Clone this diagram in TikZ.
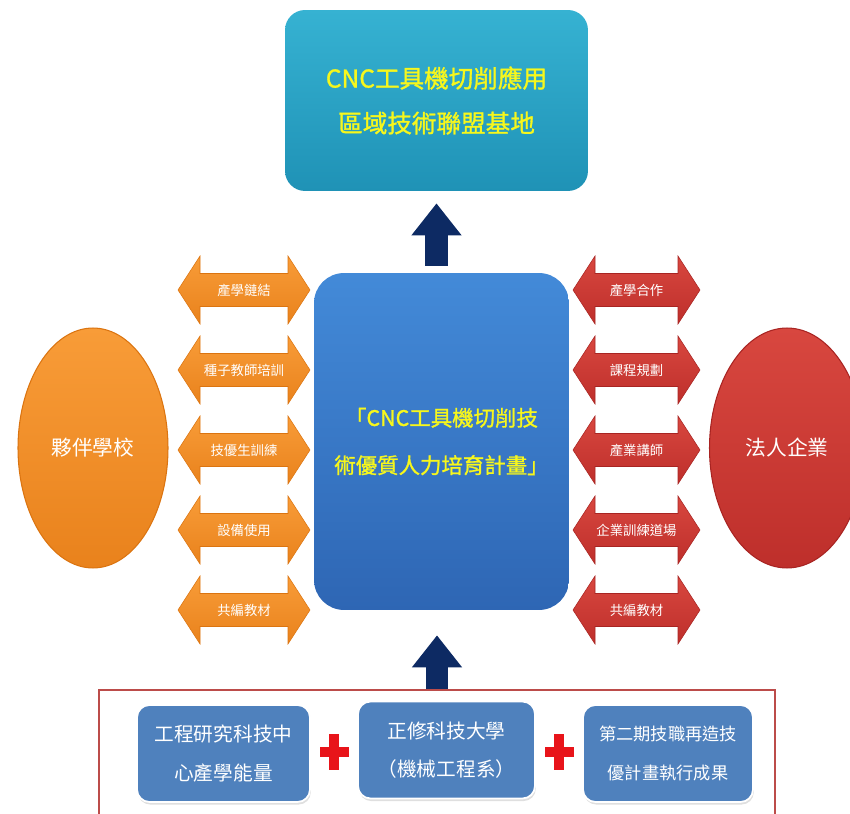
\documentclass[tikz,border=0pt]{standalone}
\usepackage{fontspec}
\newfontfamily\cjk{Noto Sans CJK TC}
\newfontfamily\cjkbold[FakeBold=1.2]{Noto Sans CJK TC}
\usepackage{tikz}
\usetikzlibrary{shapes.geometric,arrows.meta,calc,shadows}

\definecolor{tealtop}{HTML}{36B2D2}
\definecolor{tealbot}{HTML}{1F92B6}
\definecolor{plantop}{HTML}{438AD8}
\definecolor{planbot}{HTML}{2E66B4}
\definecolor{orangein}{HTML}{F89C38}
\definecolor{orangeout}{HTML}{E9821C}
\definecolor{orangedark}{HTML}{DB7410}
\definecolor{redin}{HTML}{D8473F}
\definecolor{redout}{HTML}{BE2F2B}
\definecolor{reddark}{HTML}{A82422}
\definecolor{navy}{HTML}{0D2A63}
\definecolor{steel}{HTML}{4F81BD}
\definecolor{framered}{HTML}{BC4C4A}
\definecolor{titleyellow}{HTML}{F7F71C}
\definecolor{plusred}{HTML}{E8141A}

\begin{document}
\begin{tikzpicture}[x=0.02cm,y=-0.02cm,
  title/.style={font=\cjkbold\fontsize{14}{25.5}\selectfont, text=titleyellow, align=center},
  planbox/.style={rounded corners=0.6cm, top color=plantop, bottom color=planbot,
    font=\cjkbold\fontsize{12.2}{27}\selectfont, text=titleyellow, align=center},
  partner/.style={ellipse, top color=#1in, bottom color=#1out, draw=#1dark, line width=0.6pt,
    text=white, font=\cjk\fontsize{11.8}{14}\selectfont},
  tag/.style={text=white, font=\cjk\fontsize{7.6}{9}\selectfont},
  source/.style={rounded corners=0.25cm, fill=steel, draw=white, line width=1pt,
    drop shadow={opacity=0.25, shadow xshift=0.5pt, shadow yshift=-1.5pt},
    text=white, align=center, minimum height=1.94cm},
  liftarrow/.style={navy, line width=0.46cm, -{Triangle[width=0.96cm,length=0.64cm]}}]
\useasboundingbox (0,0) rectangle (850,814);

% goal and plan
\node[rounded corners=0.4cm, top color=tealtop, bottom color=tealbot,
  minimum width=6.06cm, minimum height=3.62cm, title] (base) at (436.5,100.5)
  {CNC工具機切削應用\\區域技術聯盟基地};
\node[planbox, minimum width=5.1cm, minimum height=6.74cm] (plan) at (441.5,441.5)
  {「CNC工具機切削技\\術優質人力培育計畫」};

% partners
\node[partner=orange, minimum width=3cm, minimum height=4.8cm] (school) at (93,448) {夥伴學校};
\node[partner=red, minimum width=3.1cm, minimum height=4.8cm] (firm) at (787,448) {法人企業};

% double arrows
\foreach \lbl [count=\i] in {產學鏈結,種子教師培訓,技優生訓練,設備使用,共編教材}{
  \pgfmathsetmacro\yy{210+80*\i}
  \draw[draw=orangedark, line width=0.3pt, top color=orangein, bottom color=orangeout]
    (178,\yy) -- ++(22,-34) -- ++(0,17.5) -- ++(88,0) -- ++(0,-17.5) -- ++(22,34)
    -- ++(-22,34) -- ++(0,-17.5) -- ++(-88,0) -- ++(0,17.5) -- cycle;
  \node[tag] (l\i) at (244,\yy) {\lbl};
}
\foreach \lbl [count=\i] in {產學合作,課程規劃,產業講師,企業訓練道場,共編教材}{
  \pgfmathsetmacro\yy{210+80*\i}
  \draw[draw=reddark, line width=0.3pt, top color=redin, bottom color=redout]
    (573,\yy) -- ++(22,-34) -- ++(0,17.5) -- ++(83,0) -- ++(0,-17.5) -- ++(22,34)
    -- ++(-22,34) -- ++(0,-17.5) -- ++(-83,0) -- ++(0,17.5) -- cycle;
  \node[tag] (r\i) at (636.5,\yy) {\lbl};
}

% sources
\node[draw=framered, line width=0.8pt, minimum width=13.52cm, minimum height=2.6cm] (team) at (437,755) {};
\node[source, minimum width=3.46cm, font=\cjk\fontsize{11.2}{22}\selectfont] (b1) at (223.5,753.5)
  {工程研究科技中\\心產學能量};
\node[source, minimum width=3.54cm, font=\cjk\fontsize{11.2}{22}\selectfont] (b2) at (446.5,750)
  {正修科技大學\\（機械工程系）};
\node[source, minimum width=3.4cm, font=\cjk\fontsize{9.8}{22}\selectfont] (b3) at (668,753.5)
  {第二期技職再造技\\優計畫執行成果};
\coordinate (p1) at ($(b1.east)!.5!(b2.west)$);
\coordinate (p2) at ($(b2.east)!.5!(b3.west)$);
\foreach \p in {p1,p2}{
  \fill[plusred] ($(\p)+(-5,-18)$) rectangle ($(\p)+(5,18)$);
  \fill[plusred] ($(\p)+(-14.5,-5)$) rectangle ($(\p)+(14.5,5)$);
}

% lifts
\draw[liftarrow, shorten <=0.14cm, shorten >=0.24cm] (base.south |- plan.north) -- (base.south);
\draw[liftarrow, shorten >=0.5cm] (team.north) -- (team.north |- plan.south);
\end{tikzpicture}
\end{document}
